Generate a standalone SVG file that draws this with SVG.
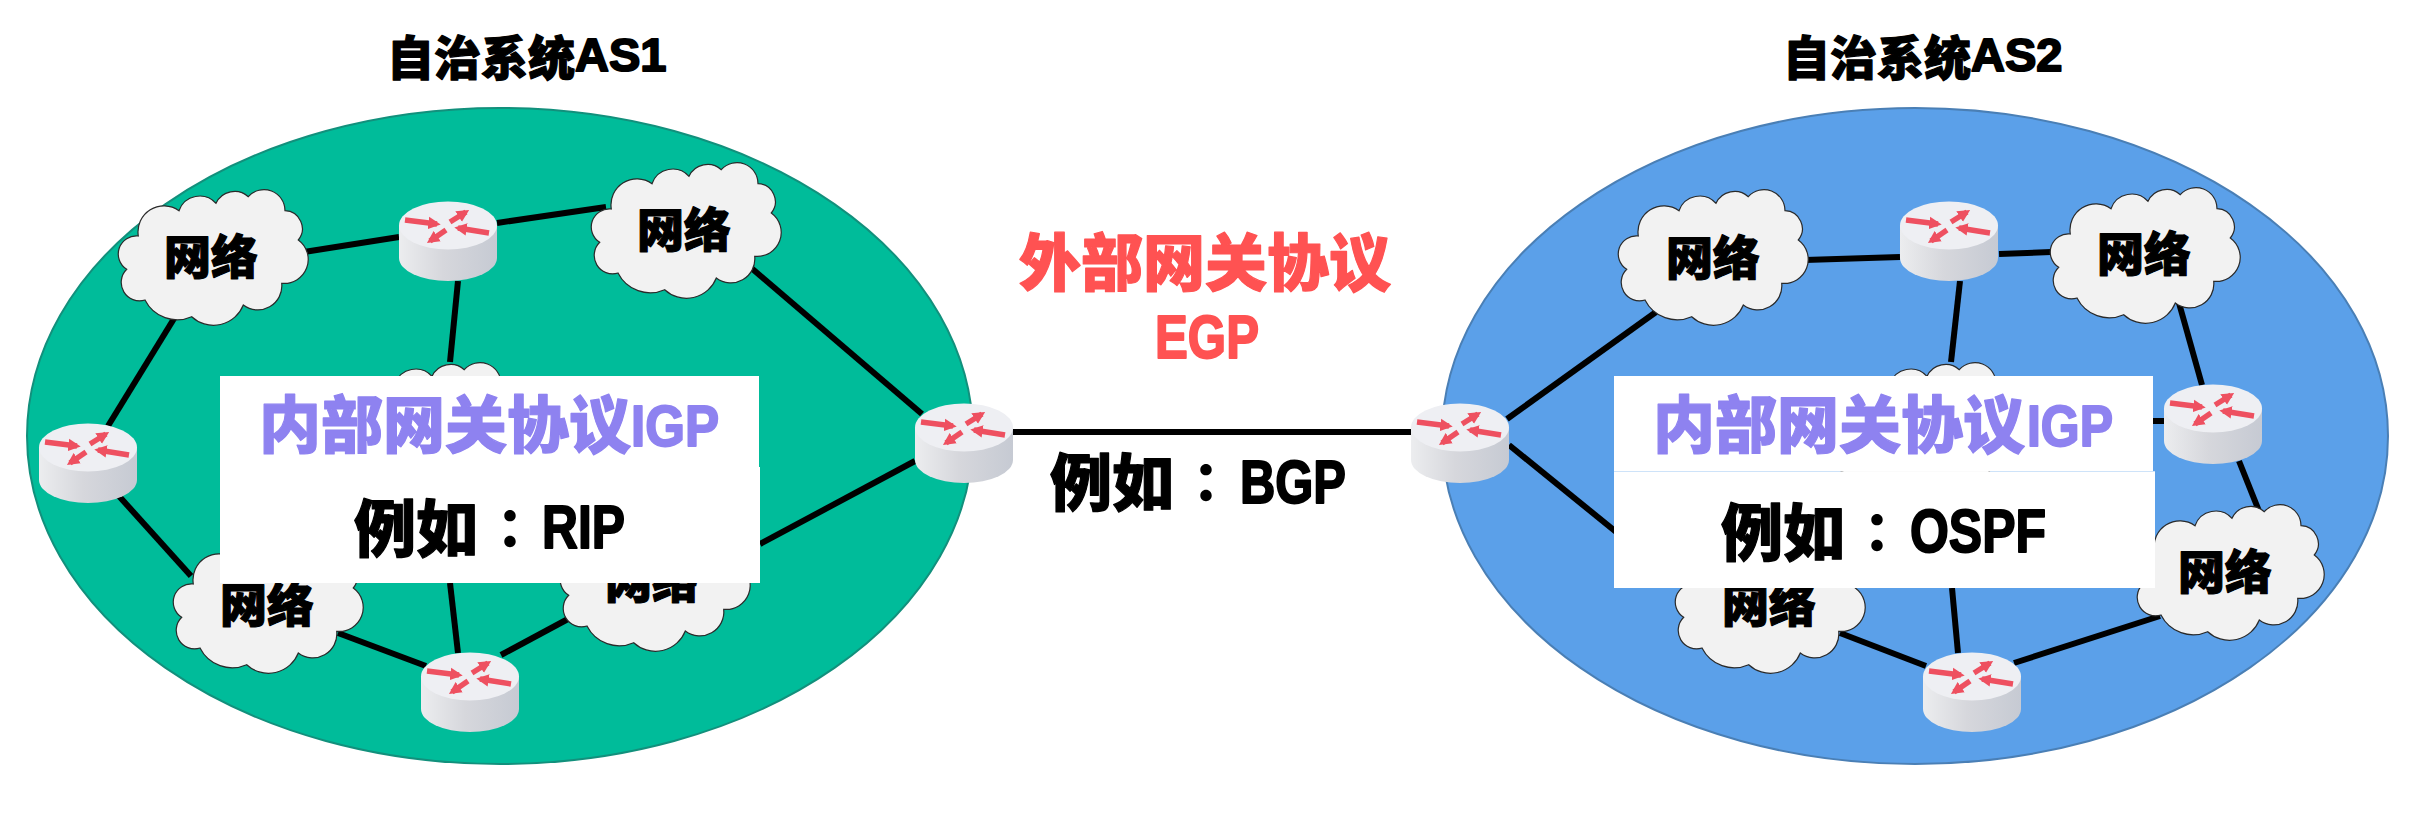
<svg xmlns="http://www.w3.org/2000/svg" width="2418" height="822" viewBox="0 0 2418 822">
<style>
text{font-family:"Liberation Sans","Noto Sans CJK SC",sans-serif;font-weight:900;stroke-width:1.2;stroke-linejoin:round}
.title{font-size:47px;fill:#000;stroke:#000}
.net{font-size:47px;fill:#000;stroke:#000;text-anchor:middle}
.igp{font-size:62px;fill:#8E82F0;stroke:#8E82F0}
.egp{font-size:62px;fill:#FF5252;stroke:#FF5252}
.eg{font-size:62px;fill:#000;stroke:#000}
.colon{font-family:"Noto Sans CJK TC",sans-serif;font-size:54px;stroke-width:0}
.lat{font-weight:700;stroke-width:2}
.links line{stroke:#000;stroke-width:6;fill:none}
.box{fill:#fff}
.cloud{fill:#F2F2F2;stroke:#2a2a2a;stroke-width:1.2}
.as1{fill:#00BC9A;stroke:#12907C;stroke-width:2}
.as2{fill:#5BA0E9;stroke:#4A7FB5;stroke-width:2}
.ra{stroke:#EE5060;stroke-width:5.4;fill:none;marker-end:url(#rh)}
</style>
<defs>
<linearGradient id="body" x1="0" x2="1" y1="0" y2="0">
<stop offset="0" stop-color="#ECEDEF"/><stop offset="0.45" stop-color="#D6D7DC"/><stop offset="1" stop-color="#C6CAD3"/>
</linearGradient>
<marker id="rh" viewBox="0 0 10 10" refX="7" refY="5" markerWidth="2.3" markerHeight="2.5" orient="auto">
<path d="M0 0L10 5L0 10Z" fill="#EE5060"/>
</marker>
<g id="router">
<path d="M0 24V57A49 23 0 0 0 98 57V24Z" fill="url(#body)"/>
<ellipse cx="49" cy="24.5" rx="49" ry="24" fill="#EEEFF3"/>
<path class="ra" d="M6 19L38 23"/>
<path class="ra" d="M51 21L67 11"/>
<path class="ra" d="M90 32L59 27"/>
<path class="ra" d="M47 29L31 40"/>
</g>
<path id="cl" class="cloud" d="M19.300 45A26 26 0 0 1 60 19.700A22 22 0 0 1 97 12.300A20.500 20.500 0 0 1 129.300 5.700A21 21 0 0 1 166 19.700A18 18 0 0 1 179.300 49A24 24 0 0 1 162.700 92.300A24 24 0 0 1 124.300 114A32 32 0 0 1 72.700 125.700A36 36 0 0 1 26 109A18.400 18.400 0 0 1 7.700 78.300A18.100 18.100 0 0 1 19.300 45Z"/>
</defs>

<rect width="2418" height="822" fill="#fff"/>
<text class="title" x="387" y="75">自治系统<tspan class="lat" dy="-4">AS1</tspan></text>
<text class="title" x="1783" y="75">自治系统<tspan class="lat" dy="-4">AS2</tspan></text>
<ellipse id="as1" class="as1" cx="500" cy="436" rx="473" ry="328"/>
<ellipse id="as2" class="as2" cx="1915" cy="436" rx="473" ry="328"/>

<g id="connectors" class="links">
<line x1="304" y1="252" x2="399" y2="237"/>
<line x1="497" y1="223" x2="606" y2="207"/>
<line x1="458" y1="281" x2="450" y2="362"/>
<line x1="175" y1="317" x2="108" y2="426"/>
<line x1="118" y1="495" x2="191" y2="576"/>
<line x1="338" y1="633" x2="426" y2="666"/>
<line x1="458" y1="653" x2="450" y2="583"/>
<line x1="501" y1="655" x2="568" y2="619"/>
<line x1="749" y1="266" x2="922" y2="414"/>
<line x1="915" y1="461" x2="760" y2="544"/>
<line x1="1013" y1="432" x2="1411" y2="432"/>
<line x1="1507" y1="419" x2="1656" y2="312"/>
<line x1="1509" y1="445" x2="1700" y2="600"/>
<line x1="1805" y1="260" x2="1900" y2="257"/>
<line x1="1999" y1="254" x2="2051" y2="252"/>
<line x1="1960" y1="281" x2="1951" y2="362"/>
<line x1="2179" y1="303" x2="2202" y2="385"/>
<line x1="2153" y1="421" x2="2176" y2="421"/>
<line x1="2239" y1="461" x2="2259" y2="511"/>
<line x1="2160" y1="616" x2="2014" y2="663"/>
<line x1="1958" y1="653" x2="1952" y2="588"/>
<line x1="1926" y1="666" x2="1840" y2="633"/>
</g>

<g id="n1-net-a"><use href="#cl" x="119" y="191"/><text class="net" x="211" y="274">网络</text></g>
<g id="n1-net-b"><use href="#cl" x="592" y="164"/><text class="net" x="684" y="247">网络</text></g>
<g id="n1-net-c"><use href="#cl" x="335" y="364"/></g>
<g id="n1-net-d"><use href="#cl" x="497" y="380"/></g>
<g id="n1-net-e"><use href="#cl" x="174" y="539"/><text class="net" x="267" y="622">网络</text></g>
<g id="n1-net-f"><use href="#cl" x="561" y="517"/><text class="net" x="652" y="598">网络</text></g>
<g id="n1-r-top"><use href="#router" x="399" y="201"/></g>
<g id="n1-r-left"><use href="#router" x="39" y="423"/></g>
<g id="n1-r-bottom"><use href="#router" x="421" y="652"/></g>
<g id="n1-r-gw"><use href="#router" x="915" y="403"/></g>

<g id="n2-net-a"><use href="#cl" x="1619" y="191"/><text class="net" x="1713" y="275">网络</text></g>
<g id="n2-net-b"><use href="#cl" x="2051" y="189"/><text class="net" x="2144" y="271">网络</text></g>
<g id="n2-net-c"><use href="#cl" x="1830" y="364"/></g>
<g id="n2-net-d"><use href="#cl" x="1676" y="539"/><text class="net" x="1769" y="622">网络</text></g>
<g id="n2-net-e"><use href="#cl" x="2135" y="506"/><text class="net" x="2225" y="589">网络</text></g>
<g id="n2-r-top"><use href="#router" x="1900" y="201"/></g>
<g id="n2-r-right"><use href="#router" x="2164" y="384"/></g>
<g id="n2-r-bottom"><use href="#router" x="1923" y="652"/></g>
<g id="n2-r-gw"><use href="#router" x="1411" y="403"/></g>

<g id="igp1">
<rect class="box" x="220" y="376" width="539" height="92"/>
<rect class="box" x="220" y="467" width="540" height="116"/>
<text class="igp" x="259" y="448">内部网关协议<tspan class="lat" x="631" y="446" font-size="58" textLength="88" lengthAdjust="spacingAndGlyphs">IGP</tspan></text>
<text class="eg" x="354" y="552">例如<tspan class="colon" dx="5" dy="-3">：</tspan><tspan class="lat" x="542" y="548" textLength="83" lengthAdjust="spacingAndGlyphs">RIP</tspan></text>
</g>
<g id="igp2">
<rect class="box" x="1614" y="376" width="539" height="95"/>
<rect class="box" x="1614" y="471.300" width="541" height="116.700"/>
<text class="igp" x="1653" y="448">内部网关协议<tspan class="lat" x="2027" y="446" font-size="58" textLength="86" lengthAdjust="spacingAndGlyphs">IGP</tspan></text>
<text class="eg" x="1721" y="556">例如<tspan class="colon" dx="5" dy="-3">：</tspan><tspan class="lat" x="1910" y="552" textLength="136" lengthAdjust="spacingAndGlyphs">OSPF</tspan></text>
</g>
<g id="egp">
<text class="egp" x="1019" y="286">外部网关协议</text>
<text class="egp lat" x="1155" y="358" textLength="104" lengthAdjust="spacingAndGlyphs">EGP</text>
<text class="eg" x="1050" y="506">例如<tspan class="colon" dx="5" dy="-3">：</tspan><tspan class="lat" x="1240" y="503" textLength="106" lengthAdjust="spacingAndGlyphs">BGP</tspan></text>
</g>
</svg>
